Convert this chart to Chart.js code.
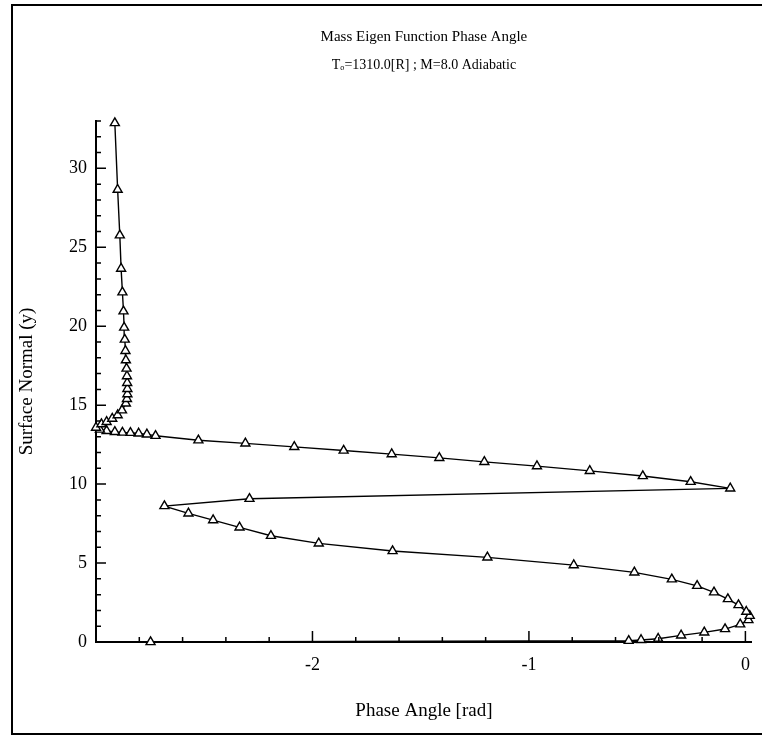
<!DOCTYPE html>
<html>
<head>
<meta charset="utf-8">
<script src="https://cdn.jsdelivr.net/npm/chart.js@4/dist/chart.umd.min.js"></script>
<style>
  html, body { margin: 0; padding: 0; background: #fff; }
  #wrap { width: 762px; height: 736px; }
</style>
</head>
<body>
<div id="wrap"><canvas id="phasechart" width="762" height="736"></canvas></div>
<script>
// phase angle [rad] along the profile, starting at the wall
const phaseAngle = [
  -2.748, -0.539, -0.482, -0.403, -0.297, -0.190, -0.094, -0.024, 0.014, 0.020,
  0.004, -0.032, -0.081, -0.145, -0.223, -0.340, -0.513, -0.793, -1.192, -1.630,
  -1.971, -2.192, -2.337, -2.459, -2.573, -2.684, -2.291, -0.070, -0.253, -0.474,
  -0.719, -0.963, -1.206, -1.414, -1.634, -1.856, -2.084, -2.310, -2.527, -2.725,
  -2.765, -2.803, -2.841, -2.878, -2.913, -2.951, -2.982, -3.000, -2.975, -2.951,
  -2.925, -2.900, -2.880, -2.862, -2.857, -2.855, -2.855, -2.856, -2.857, -2.859,
  -2.862, -2.864, -2.867, -2.870, -2.873, -2.878, -2.884, -2.890, -2.900, -2.913
];
// surface normal coordinate y for each point
const surfaceNormal = [
  0.00, 0.08, 0.13, 0.21, 0.42, 0.61, 0.82, 1.12, 1.39, 1.66,
  1.92, 2.34, 2.72, 3.15, 3.56, 3.97, 4.41, 4.87, 5.36, 5.76,
  6.25, 6.73, 7.26, 7.72, 8.15, 8.61, 9.07, 9.73, 10.15, 10.51,
  10.84, 11.14, 11.41, 11.66, 11.90, 12.13, 12.36, 12.58, 12.78, 13.06,
  13.15, 13.21, 13.25, 13.27, 13.31, 13.37, 13.46, 13.58, 13.80, 13.94,
  14.15, 14.37, 14.68, 15.11, 15.40, 15.70, 16.03, 16.41, 16.84, 17.32,
  17.85, 18.44, 19.16, 19.92, 20.95, 22.15, 23.65, 25.76, 28.65, 32.87
];

const xLabelValues = [-2, -1, 0];
const yLabelValues = [0, 5, 10, 15, 20, 25, 30];

const points = phaseAngle.map((p, i) => ({ x: p, y: surfaceNormal[i] }));
const near = (a, b) => Math.abs(a - b) < 1e-6;

// outer frame round the figure
const frame = {
  id: "frame",
  beforeDraw(chart) {
    const ctx = chart.ctx;
    ctx.save();
    ctx.fillStyle = "#fff";
    ctx.fillRect(0, 0, chart.width, chart.height);
    ctx.strokeStyle = "#000";
    ctx.lineWidth = 2;
    ctx.beginPath();
    ctx.moveTo(762, 5);
    ctx.lineTo(12, 5);
    ctx.lineTo(12, 734);
    ctx.lineTo(762, 734);
    ctx.stroke();
    ctx.restore();
  },
};

// tick marks pointing into the plot
const innerTicks = {
  id: "innerTicks",
  afterDraw(chart) {
    const { ctx, chartArea, scales } = chart;
    ctx.save();
    ctx.strokeStyle = "#000";
    ctx.lineWidth = 1.5;
    ctx.beginPath();
    scales.x.ticks.forEach((t) => {
      const px = scales.x.getPixelForValue(t.value);
      const len = near(t.value, Math.round(t.value)) ? 11 : 5;
      ctx.moveTo(px, chartArea.bottom);
      ctx.lineTo(px, chartArea.bottom - len);
    });
    scales.y.ticks.forEach((t) => {
      const py = scales.y.getPixelForValue(t.value);
      const len = t.value % 5 === 0 ? 10 : 5;
      ctx.moveTo(chartArea.left, py);
      ctx.lineTo(chartArea.left + len, py);
    });
    ctx.stroke();
    ctx.restore();
  },
};

const serif = "'Liberation Serif', 'Times New Roman', serif";
const ctx = document.getElementById("phasechart").getContext("2d");

new Chart(ctx, {
  type: "scatter",
  data: {
    datasets: [
      {
        data: points,
        showLine: true,
        borderColor: "#000",
        borderWidth: 1.4,
        pointStyle: "triangle",
        pointRadius: 5.2,
        pointBackgroundColor: "#fff",
        pointBorderColor: "#000",
        pointBorderWidth: 1.4,
        clip: false,
      },
    ],
  },
  options: {
    responsive: false,
    animation: false,
    layout: {
      padding: { left: 16, right: 5, top: 0, bottom: 14 },
    },
    scales: {
      x: {
        type: "linear",
        min: -3,
        max: 0.03,
        grid: { display: false, drawTicks: false },
        border: { display: true, color: "#000", width: 2 },
        ticks: {
          stepSize: 0.2,
          includeBounds: false,
          autoSkip: false,
          maxRotation: 0,
          padding: 12,
          color: "#000",
          font: { family: serif, size: 18 },
          callback: (v) => (xLabelValues.some((l) => near(l, v)) ? String(Math.round(v)) : ""),
        },
        title: {
          display: true,
          text: "Phase Angle [rad]",
          color: "#000",
          font: { family: serif, size: 19 },
          padding: 0,
        },
        afterFit: (scale) => {
          scale.height = 80;
        },
      },
      y: {
        type: "linear",
        min: 0,
        max: 33,
        grid: { display: false, drawTicks: false },
        border: { display: true, color: "#000", width: 2 },
        ticks: {
          stepSize: 1,
          includeBounds: false,
          autoSkip: false,
          padding: 9,
          color: "#000",
          font: { family: serif, size: 18 },
          callback: (v) => (yLabelValues.includes(v) ? String(v) : ""),
        },
        title: {
          display: true,
          text: "Surface Normal (y)",
          color: "#000",
          font: { family: serif, size: 19 },
          padding: 0,
        },
        afterFit: (scale) => {
          scale.width = 80;
        },
      },
    },
    plugins: {
      legend: { display: false },
      tooltip: { enabled: false },
      title: {
        display: true,
        fullSize: false,
        text: "Mass Eigen Function Phase Angle",
        color: "#000",
        font: { family: serif, size: 15, weight: "normal", lineHeight: 1.2 },
        padding: { top: 28, bottom: 0 },
      },
      subtitle: {
        display: true,
        fullSize: false,
        text: "T\u2092=1310.0[R] ; M=8.0 Adiabatic",
        color: "#000",
        font: { family: serif, size: 14, weight: "normal", lineHeight: 1.2 },
        padding: { top: 10.6, bottom: 47.6 },
      },
    },
  },
  plugins: [frame, innerTicks],
});
</script>
</body>
</html>
